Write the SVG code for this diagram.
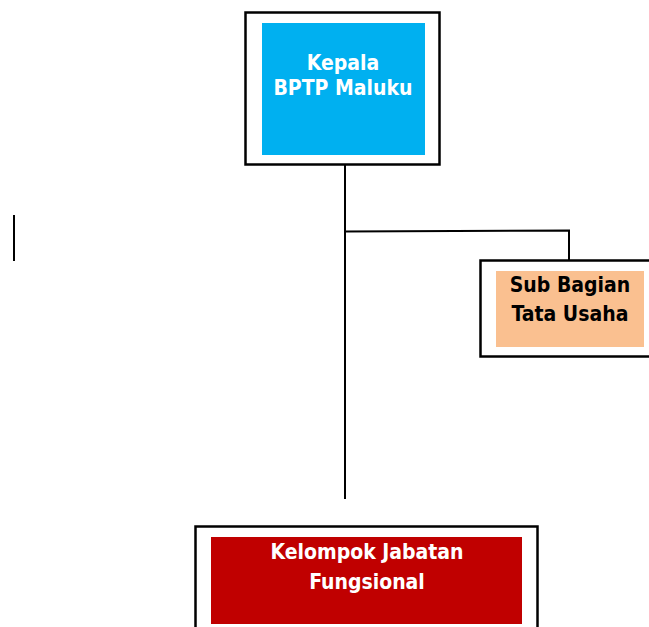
<svg xmlns="http://www.w3.org/2000/svg" width="649" height="627" viewBox="0 0 649 627">
<style>
.frame{fill:#fff;stroke:#000;stroke-width:2.5}
.lbl{font-family:"DejaVu Sans Condensed","DejaVu Sans",sans-serif;font-weight:bold;font-size:21px;text-anchor:middle}
.conn{fill:none;stroke:#000;stroke-width:2}
</style>
<rect width="649" height="627" fill="#fff"/>
<g id="connectors">
<line class="conn" x1="345" y1="165" x2="345" y2="499"/>
<polyline class="conn" points="345,231.5 569,230.5 569,260"/>
<line class="conn" x1="14" y1="215" x2="14" y2="261"/>
</g>
<g id="kepala">
<rect class="frame" x="245.5" y="12.5" width="194" height="152"/>
<rect x="262" y="23" width="163" height="132" fill="#00b0f0"/>
<text class="lbl" fill="#fff" x="343" y="70">Kepala</text>
<text class="lbl" fill="#fff" x="343" y="95">BPTP Maluku</text>
</g>
<g id="subbagian">
<rect class="frame" x="480.5" y="260.5" width="180" height="96"/>
<rect x="496" y="271" width="148" height="76" fill="#fac090"/>
<text class="lbl" fill="#000" x="570" y="292">Sub Bagian</text>
<text class="lbl" fill="#000" x="570" y="321">Tata Usaha</text>
</g>
<g id="kelompok">
<rect class="frame" x="195.5" y="526.5" width="342" height="120"/>
<rect x="211" y="537" width="311" height="87" fill="#c00000"/>
<text class="lbl" fill="#fff" x="367" y="559">Kelompok Jabatan</text>
<text class="lbl" fill="#fff" x="367" y="589">Fungsional</text>
</g>
</svg>
